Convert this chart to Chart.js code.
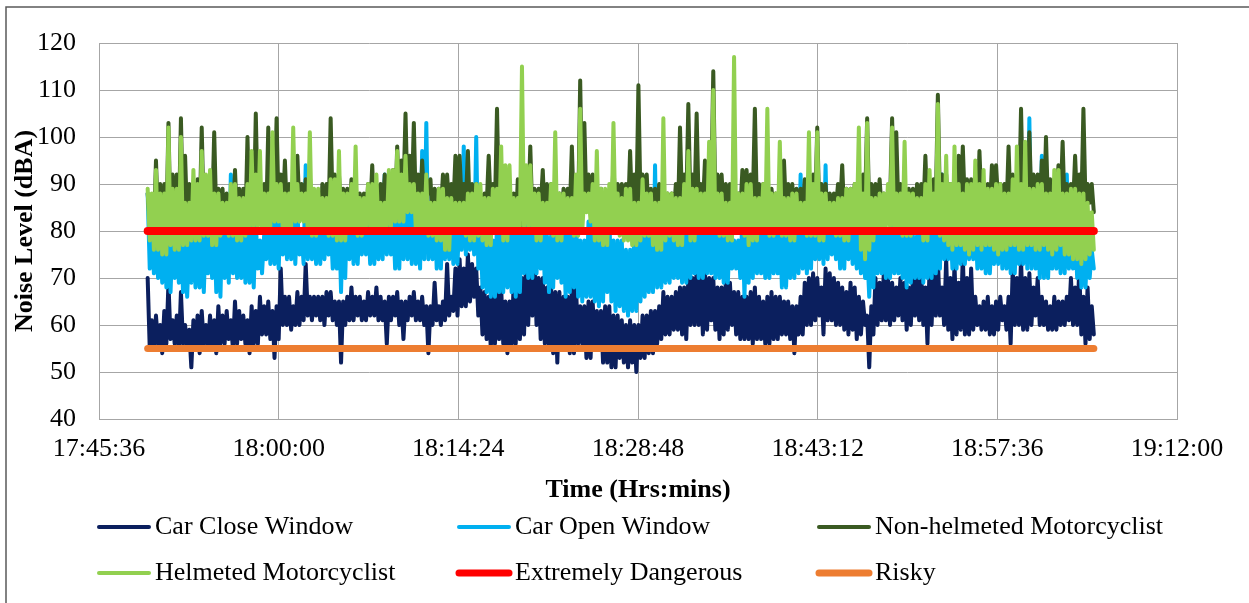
<!DOCTYPE html>
<html>
<head>
<meta charset="utf-8">
<script src="https://cdn.jsdelivr.net/npm/chart.js@4/dist/chart.umd.min.js"></script>
<style>
html,body{margin:0;padding:0;background:#fff;}
#wrap{width:1249px;height:603px;position:relative;}
canvas{display:block;}
</style>
</head>
<body>
<div id="wrap"><canvas id="c" width="1249" height="603"></canvas></div>
<script>
// ---- data ----
// Each series is logged every 10 s; the readings alternate between the local
// peak (…High, at startTime + 20·i s) and the local trough (…Low, 10 s later).
const startTime = '17:49:30';
const pairSeconds = 20;

const carCloseHigh = [70,61,62,60,63,69,61,62,67,60,59,61,62,63,60,62,61,64,62,63,61,65,63,62,61,64,63,66,64,65,63,64,72,66,66,64,67,
66,73,66,66,66,66,67,67,65,65,65,66,68,66,66,65,67,66,68,66,65,66,66,67,65,65,66,67,65,66,64,64,69,64,65,73,66,72,
74,72,75,73,72,68,67,66,66,68,68,65,65,69,69,70,74,73,75,70,70,68,68,67,67,66,66,68,68,64,64,65,65,63,63,64,64,62,62,
61,60,61,60,60,62,62,63,63,64,67,66,66,67,68,68,70,70,72,70,71,70,70,68,68,69,69,67,67,66,66,67,68,66,65,66,67,66,
66,65,65,64,64,66,69,70,71,70,68,72,71,70,69,68,67,69,68,66,65,62,64,70,69,71,70,69,68,70,69,68,70,73,71,68,72,72,74,
68,74,70,73,69,75,70,72,66,64,65,66,64,65,66,64,66,72,70,74,70,71,68,70,66,65,64,66,65,65,66,70,68,72,66,68,64];
const carCloseLow = [55,55,56,54,56,57,56,55,56,55,51,55,54,56,55,55,54,56,56,57,55,56,57,56,54,56,56,58,58,57,53,57,60,60,59,60,60,
61,62,61,62,61,60,62,61,60,52,60,61,61,62,61,61,62,62,61,61,56,61,62,60,57,61,62,61,61,60,54,60,61,60,61,62,63,62,
64,64,65,66,62,58,57,55,56,57,56,54,55,56,57,58,60,62,60,57,56,55,54,52,55,55,54,54,56,56,53,53,55,55,52,52,51,51,53,
52,51,52,50,53,53,54,54,56,57,58,58,59,59,58,57,60,60,60,58,59,61,59,57,58,59,60,58,57,57,57,56,57,57,56,56,57,57,
58,58,57,54,58,58,60,60,61,62,58,61,61,60,60,59,58,59,57,58,60,51,58,60,61,61,60,61,62,61,59,60,62,61,60,56,60,62,62,
60,59,57,58,59,58,58,59,60,59,59,58,58,59,61,59,56,60,60,59,59,60,62,60,60,59,59,59,60,60,61,60,60,58,56,57,58];

const carOpenHigh = [88,81,82,79,80,78,79,80,81,77,78,82,83,79,80,81,82,83,84,85,92,81,80,84,85,81,82,78,79,86,88,83,84,85,86,83,84,
80,94,84,84,86,86,82,82,80,84,84,86,86,84,84,83,83,87,87,86,92,84,84,86,86,88,88,90,90,97,103,86,86,84,84,85,85,83,
84,98,86,88,100,82,80,80,78,82,82,86,86,80,80,84,84,88,88,82,80,79,79,83,83,80,80,84,84,78,78,82,82,80,80,84,84,78,78,
78,76,76,80,80,82,82,84,94,80,80,83,83,79,79,84,84,80,80,85,85,82,82,84,84,80,80,78,78,83,83,85,85,80,80,82,82,80,
82,80,80,84,84,92,82,82,86,86,84,94,84,84,82,82,86,86,80,80,78,76,78,82,82,80,80,84,80,80,82,82,79,79,83,83,82,82,80,
92,82,82,84,84,86,86,83,83,84,84,80,80,84,84,86,86,84,84,90,90,104,86,86,96,82,82,84,84,92,92,80,80,82,82,78,76];
const carOpenLow = [72,71,70,69,68,67,70,69,67,66,69,68,68,67,71,70,67,66,70,69,71,70,70,69,69,68,72,71,74,73,73,72,75,74,74,73,75,
73,74,74,73,73,74,75,72,72,67,70,74,73,73,75,75,73,73,74,74,75,75,72,72,74,74,73,73,72,74,74,74,72,72,74,74,73,73,
76,75,76,75,72,68,67,66,66,67,67,68,67,66,67,71,70,70,71,72,69,67,68,70,69,66,67,68,66,65,66,66,65,64,65,67,65,63,64,
63,62,63,63,65,66,67,67,68,68,69,69,70,70,69,69,70,71,70,70,71,71,70,70,69,69,72,72,70,66,69,70,71,71,70,70,71,71,
68,68,70,70,71,72,71,72,74,74,73,74,75,74,72,72,74,73,72,71,70,66,68,71,71,70,70,71,71,70,68,69,70,70,69,70,70,71,72,
74,74,72,72,73,73,74,74,72,72,71,71,73,73,72,72,71,71,73,73,72,72,72,70,70,70,72,72,71,71,72,72,70,68,68,70,72];

const nonHelmetedHigh = [88,86,95,90,90,103,92,92,104,96,90,90,91,102,91,91,101,89,89,88,88,93,89,89,100,91,105,90,90,102,92,104,92,95,90,90,96,
90,91,92,88,88,90,90,104,92,92,89,89,91,91,88,88,90,94,90,90,92,92,93,98,95,105,96,103,92,95,91,91,89,89,92,92,90,96,
96,90,97,90,90,88,88,96,90,106,90,90,88,88,91,91,90,98,89,89,93,90,90,88,88,89,89,98,90,112,103,92,92,89,89,87,87,94,90,
90,90,97,92,111,92,92,89,89,90,90,88,88,90,102,92,107,92,105,90,95,92,114,92,92,90,90,88,88,93,93,92,106,90,90,89,89,88,
88,95,90,90,89,89,91,91,92,102,90,90,88,88,90,94,89,89,90,90,92,104,90,90,91,88,88,104,101,90,90,89,89,90,90,96,91,91,109,
92,92,90,90,96,98,91,91,92,97,90,90,94,94,90,90,98,92,92,106,95,101,92,92,95,100,91,91,94,99,90,90,96,92,106,90,90];
const nonHelmetedLow = [82,80,82,80,81,81,81,82,83,82,80,81,82,82,82,83,83,83,81,81,82,82,80,81,82,82,84,84,82,84,85,84,84,83,82,83,84,
84,84,82,82,80,80,83,84,86,84,84,82,82,80,80,82,84,82,82,84,86,83,83,84,88,86,86,84,84,86,88,82,82,84,84,85,85,86,
86,86,82,82,81,81,85,85,85,84,84,82,82,80,80,84,84,83,83,85,82,82,84,84,81,81,84,83,83,85,85,85,82,82,81,81,84,84,84,
83,83,84,84,86,86,82,82,85,85,84,84,83,83,85,85,86,86,85,85,88,88,86,86,84,84,85,85,84,84,86,86,84,84,83,83,84,84,
84,84,84,82,82,84,84,85,85,84,84,83,83,85,85,83,83,82,82,86,86,84,84,85,84,84,86,86,85,85,84,84,83,83,84,84,84,86,86,
86,84,84,85,85,85,85,83,83,85,85,84,84,86,86,84,84,84,85,85,85,86,86,84,84,85,85,86,86,84,84,85,85,85,86,86,84];

const helmetedHigh = [89,88,93,88,88,102,89,89,100,86,86,93,90,97,92,93,88,88,86,86,90,90,87,87,90,97,92,97,88,88,101,90,90,88,88,102,90,
88,88,101,89,89,87,87,91,91,97,88,88,90,98,87,87,90,90,92,86,86,93,93,97,92,96,90,90,88,88,92,86,86,89,89,87,87,86,
86,86,88,88,90,90,87,87,89,89,98,94,94,87,87,115,94,94,88,88,86,86,90,101,88,88,87,87,92,106,88,88,90,97,89,89,90,103,88,
87,89,89,86,86,91,88,88,86,86,104,88,88,87,87,90,97,89,89,88,88,99,110,88,88,86,86,117,88,88,90,90,87,87,90,106,88,88,
99,87,87,88,88,86,86,101,90,101,88,88,86,86,87,87,89,89,90,102,88,103,87,87,88,88,90,102,88,88,99,88,88,87,87,90,93,88,107,
90,96,90,98,90,88,90,90,95,90,93,89,89,90,90,88,88,91,98,90,99,89,89,90,90,88,88,93,93,88,88,89,89,88,88,86,84];
const helmetedLow = [78,76,76,75,75,77,76,76,77,77,78,78,78,79,79,77,77,79,80,79,79,78,78,79,80,81,81,80,80,81,82,82,80,80,81,82,82,
82,80,79,79,80,80,79,79,78,78,78,80,80,79,79,81,81,80,80,80,81,81,82,82,82,84,84,80,80,80,79,79,78,78,76,76,80,80,
80,79,78,78,79,78,77,77,80,80,78,78,80,80,81,81,81,80,78,78,80,80,79,78,78,80,80,79,79,80,84,82,78,78,77,77,80,80,79,
78,78,77,77,78,79,79,77,76,76,78,79,78,77,77,80,78,78,80,80,80,80,80,79,79,78,78,80,80,79,77,78,78,80,80,79,79,80,
79,79,78,78,80,80,79,79,79,78,78,80,80,79,79,78,78,80,80,76,74,76,78,80,80,81,81,80,80,79,79,79,80,80,78,78,80,80,79,
78,77,76,77,77,76,75,76,77,76,77,77,76,75,76,76,77,77,76,76,77,77,76,76,77,76,75,76,77,75,75,74,74,73,74,75,76];

const extremelyDangerousLevel = 80;
const riskyLevel = 55;

const seriesLabels = ['Car Close Window','Car Open Window','Non-helmeted Motorcyclist','Helmeted Motorcyclist','Extremely Dangerous','Risky'];
const timeTicks = ['17:45:36','18:00:00','18:14:24','18:28:48','18:43:12','18:57:36','19:12:00'];
const yTicks = [40,50,60,70,80,90,100,110,120];

// ---- helpers ----
function toSec(s){ const p = s.split(':').map(Number); return p[0]*3600 + p[1]*60 + p[2]; }
const t0 = toSec(startTime);
function toPoints(high, low){
  const pts = [];
  high.forEach((v,i)=>{
    pts.push({x: t0 + i*pairSeconds, y: v});
    pts.push({x: t0 + i*pairSeconds + pairSeconds/2, y: low[i]});
  });
  return pts;
}
const tEnd = t0 + (carCloseHigh.length-1)*pairSeconds + pairSeconds/2;
const tickValues = timeTicks.map(toSec);

const FONT = "'Liberation Serif','Times New Roman',serif";

const framePlugin = {
  id:'frame',
  beforeDraw(chart){
    const ctx = chart.ctx;
    ctx.save();
    ctx.fillStyle = '#fff';
    ctx.fillRect(0,0,chart.width,chart.height);
    ctx.strokeStyle = '#595959';
    ctx.lineWidth = 1.5;
    ctx.beginPath();
    ctx.moveTo(6, chart.height);
    ctx.lineTo(6, 7);
    ctx.lineTo(chart.width, 7);
    ctx.stroke();
    ctx.restore();
  }
};

const gridLegend = {
  id:'gridLegend',
  afterDraw(chart){
    const cols = [97, 457, 817];
    const rows = [527, 573];
    const ctx = chart.ctx;
    ctx.save();
    ctx.font = '26px ' + FONT;
    ctx.textBaseline = 'middle';
    ctx.textAlign = 'left';
    chart.data.datasets.forEach((ds,i)=>{
      const x = cols[i%3], y = rows[Math.floor(i/3)];
      ctx.beginPath();
      ctx.strokeStyle = ds.borderColor;
      ctx.lineWidth = ds.legendLineWidth;
      ctx.lineCap = 'round';
      ctx.moveTo(x+2, y);
      ctx.lineTo(x+52, y);
      ctx.stroke();
      ctx.fillStyle = '#000';
      ctx.fillText(ds.label, x+58, y);
    });
    ctx.restore();
  }
};

const colors = ['#0B1F5E','#00B0F0','#3A5A22','#92D050','#FF0000','#ED7D31'];

function lineDs(i, data, width, legendWidth){
  return {
    label: seriesLabels[i],
    data: data,
    borderColor: colors[i],
    backgroundColor: colors[i],
    borderWidth: width,
    legendLineWidth: legendWidth,
    pointRadius: 0,
    tension: 0,
    fill: false,
    borderCapStyle: 'round',
    borderJoinStyle: 'round',
    order: -i
  };
}

new Chart(document.getElementById('c'), {
  type: 'line',
  data: {
    datasets: [
      lineDs(0, toPoints(carCloseHigh, carCloseLow), 4, 4),
      lineDs(1, toPoints(carOpenHigh, carOpenLow), 4, 4),
      lineDs(2, toPoints(nonHelmetedHigh, nonHelmetedLow), 4, 4),
      lineDs(3, toPoints(helmetedHigh, helmetedLow), 4, 4),
      lineDs(4, [{x:t0,y:extremelyDangerousLevel},{x:tEnd,y:extremelyDangerousLevel}], 8, 7),
      lineDs(5, [{x:t0,y:riskyLevel},{x:tEnd,y:riskyLevel}], 7, 7)
    ]
  },
  options: {
    responsive: false,
    animation: false,
    devicePixelRatio: 1,
    parsing: false,
    layout: { padding: { left: 0, right: 72, top: 43, bottom: 93 } },
    plugins: { legend: { display: false }, tooltip: { enabled: false } },
    scales: {
      x: {
        type: 'linear',
        min: tickValues[0],
        max: tickValues[tickValues.length-1],
        afterBuildTicks: (s)=>{ s.ticks = tickValues.map(v=>({value:v})); },
        afterFit: (s)=>{ s.height = 91; },
        ticks: {
          autoSkip: false, maxRotation: 0, padding: 15,
          color: '#000',
          font: { family: FONT, size: 26 },
          callback: (v, i)=> timeTicks[i]
        },
        grid: { color: '#A6A6A6', lineWidth: 1, drawTicks: false },
        border: { color: '#A6A6A6' },
        title: {
          display: true, text: 'Time (Hrs:mins)', color: '#000',
          font: { family: FONT, size: 26, weight: 'bold' },
          padding: { top: 0, bottom: 4 }
        }
      },
      y: {
        type: 'linear',
        min: yTicks[0],
        max: yTicks[yTicks.length-1],
        afterBuildTicks: (s)=>{ s.ticks = yTicks.map(v=>({value:v})); },
        afterFit: (s)=>{ s.width = 99; },
        ticks: {
          padding: 23, color: '#000',
          font: { family: FONT, size: 26 }
        },
        grid: { color: '#A6A6A6', lineWidth: 1, drawTicks: false },
        border: { color: '#A6A6A6' },
        title: {
          display: true, text: 'Noise Level (dBA)', color: '#000',
          font: { family: FONT, size: 26, weight: 'bold' },
          padding: { top: 10, bottom: 0 }
        }
      }
    }
  },
  plugins: [framePlugin, gridLegend]
});
</script>
</body>
</html>
